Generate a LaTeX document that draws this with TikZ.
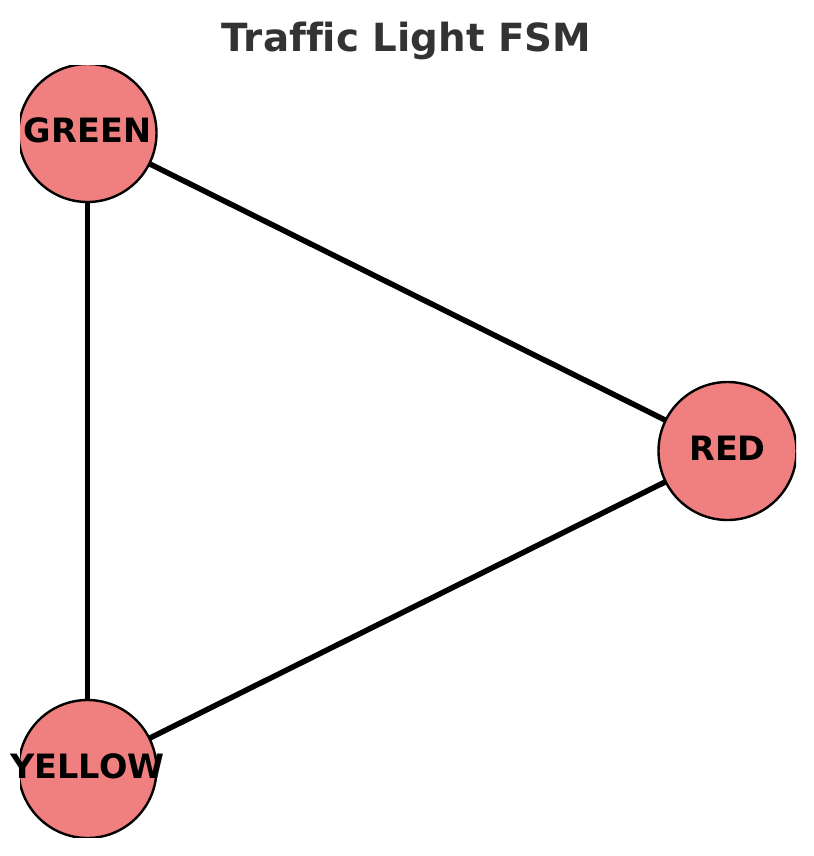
\documentclass[tikz,border=0pt]{standalone}
\usepackage{fontspec}
\setmainfont{DejaVu Sans}[Ligatures=NoCommon]
\usetikzlibrary{backgrounds}
\definecolor{nodefill}{HTML}{F08080}
\definecolor{titlegray}{HTML}{333333}
\tikzset{
  statecircle/.style={circle, fill=nodefill, draw=black, line width=2.4bp, minimum size=138bp, inner sep=0pt},
  statelabel/.style={font=\bfseries\fontsize{33.5bp}{39bp}\selectfont, text=black, inner sep=0pt, yshift=2.5bp},
  edgeline/.style={line width=5.5bp, black},
}
\begin{document}
\begin{tikzpicture}[x=1bp,y=-1bp]
\useasboundingbox (0,0) rectangle (814,856);
\node[font=\bfseries\fontsize{38.8bp}{45bp}\selectfont, text=titlegray, anchor=base, inner sep=0pt] (title) at (406.5,51.5) {Traffic Light FSM};
\begin{scope}
  \clip (20,65) rectangle (796,837);
  \node[statecircle] (G) at (87.5,133) {};
  \node[statecircle] (R) at (727.5,451) {};
  \node[statecircle] (Y) at (87.5,769) {};
\end{scope}
\begin{scope}[on background layer]
  \fill[white] (0,0) rectangle (814,856);
  \draw[edgeline] (G.center) -- (R.center);
  \draw[edgeline] (G.center) -- (Y.center);
  \draw[edgeline] (Y.center) -- (R.center);
\end{scope}
\node[statelabel] (Gl) at (G) {GREEN};
\node[statelabel] (Rl) at (R) {RED};
\node[statelabel] (Yl) at (Y) {YELLOW};
\end{tikzpicture}
\end{document}
